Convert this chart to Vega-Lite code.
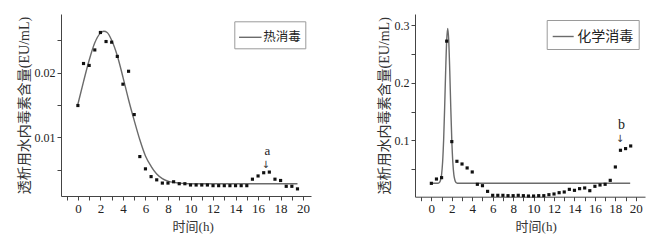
{
  "$schema": "https://vega.github.io/schema/vega-lite/v6.json",
  "background": "white",
  "padding": {"left": 17, "top": 14, "right": 5, "bottom": 4},
  "spacing": 66,
  "config": {
    "view": {"stroke": null},
    "axis": {
      "grid": false,
      "domainColor": "#444",
      "tickColor": "#444",
      "labelColor": "#222",
      "titleColor": "#333",
      "labelFont": "Liberation Serif",
      "titleFont": "Liberation Serif, Noto Sans CJK SC",
      "titleFontWeight": "normal",
      "tickSize": 4,
      "labelPadding": 2,
      "labelFlush": false
    },
    "legend": {
      "orient": "none",
      "strokeColor": "#9a9a9a",
      "fillColor": "white",
      "symbolType": "stroke",
      "symbolStrokeWidth": 1.4,
      "labelFont": "Noto Sans CJK SC",
      "labelColor": "#222",
      "padding": 4
    }
  },
  "datasets": {
    "heatPts": [
      {"t": 0, "v": 0.0149}, {"t": 0.5, "v": 0.0214}, {"t": 1, "v": 0.0211}, {"t": 1.5, "v": 0.0235},
      {"t": 2, "v": 0.0262}, {"t": 2.5, "v": 0.0248}, {"t": 3, "v": 0.0247}, {"t": 3.5, "v": 0.0225},
      {"t": 4, "v": 0.0182}, {"t": 4.5, "v": 0.0202}, {"t": 5, "v": 0.0135}, {"t": 5.5, "v": 0.0070},
      {"t": 6, "v": 0.0051}, {"t": 6.5, "v": 0.0039}, {"t": 7, "v": 0.0034}, {"t": 7.5, "v": 0.0029},
      {"t": 8, "v": 0.0029}, {"t": 8.5, "v": 0.0031}, {"t": 9, "v": 0.0028}, {"t": 9.5, "v": 0.0028},
      {"t": 10, "v": 0.0026}, {"t": 10.5, "v": 0.0026}, {"t": 11, "v": 0.0026}, {"t": 11.5, "v": 0.0026},
      {"t": 12, "v": 0.0025}, {"t": 12.5, "v": 0.0025}, {"t": 13, "v": 0.0025}, {"t": 13.5, "v": 0.0025},
      {"t": 14, "v": 0.0025}, {"t": 14.5, "v": 0.0025}, {"t": 15, "v": 0.0025}, {"t": 15.5, "v": 0.0035},
      {"t": 16, "v": 0.0040}, {"t": 16.5, "v": 0.0045}, {"t": 17, "v": 0.0046}, {"t": 17.5, "v": 0.0035},
      {"t": 18, "v": 0.0033}, {"t": 18.5, "v": 0.0024}, {"t": 19, "v": 0.0024}, {"t": 19.5, "v": 0.0020}
    ],
    "heatCurve": [
      {"t": 0, "v": 0.0151, "s": "热消毒"}, {"t": 0.5, "v": 0.0186, "s": "热消毒"}, {"t": 1, "v": 0.0219, "s": "热消毒"},
      {"t": 1.5, "v": 0.0246, "s": "热消毒"}, {"t": 2, "v": 0.0261, "s": "热消毒"}, {"t": 2.3, "v": 0.0264, "s": "热消毒"},
      {"t": 2.6, "v": 0.0262, "s": "热消毒"}, {"t": 3, "v": 0.0250, "s": "热消毒"}, {"t": 3.5, "v": 0.0226, "s": "热消毒"},
      {"t": 4, "v": 0.0193, "s": "热消毒"}, {"t": 4.5, "v": 0.0158, "s": "热消毒"}, {"t": 5, "v": 0.0126, "s": "热消毒"},
      {"t": 5.5, "v": 0.0096, "s": "热消毒"}, {"t": 6, "v": 0.0071, "s": "热消毒"}, {"t": 6.5, "v": 0.0055, "s": "热消毒"},
      {"t": 7, "v": 0.0043, "s": "热消毒"}, {"t": 7.5, "v": 0.0036, "s": "热消毒"}, {"t": 8, "v": 0.0032, "s": "热消毒"},
      {"t": 8.5, "v": 0.0030, "s": "热消毒"}, {"t": 9, "v": 0.0029, "s": "热消毒"}, {"t": 10, "v": 0.0028, "s": "热消毒"},
      {"t": 19.5, "v": 0.0028, "s": "热消毒"}
    ],
    "heatLetter": [{"t": 16.83, "v": 0.0078, "label": "a"}],
    "heatArrow": [{"t": 16.68, "v": 0.0057, "label": "↓"}],
    "chemPts": [
      {"t": 0, "v": 0.0249}, {"t": 0.5, "v": 0.0324}, {"t": 1, "v": 0.0348}, {"t": 1.5, "v": 0.2727},
      {"t": 2, "v": 0.0976}, {"t": 2.5, "v": 0.0633}, {"t": 3, "v": 0.0586}, {"t": 3.5, "v": 0.0517},
      {"t": 4, "v": 0.0447}, {"t": 4.5, "v": 0.0232}, {"t": 5, "v": 0.0208}, {"t": 5.5, "v": 0.0109},
      {"t": 6, "v": 0.0040}, {"t": 6.5, "v": 0.0040}, {"t": 7, "v": 0.0040}, {"t": 7.5, "v": 0.0034},
      {"t": 8, "v": 0.0034}, {"t": 8.5, "v": 0.0040}, {"t": 9, "v": 0.0034}, {"t": 9.5, "v": 0.0028},
      {"t": 10, "v": 0.0028}, {"t": 10.5, "v": 0.0034}, {"t": 11, "v": 0.0034}, {"t": 11.5, "v": 0.0051},
      {"t": 12, "v": 0.0063}, {"t": 12.5, "v": 0.0086}, {"t": 13, "v": 0.0098}, {"t": 13.5, "v": 0.0144},
      {"t": 14, "v": 0.0127}, {"t": 14.5, "v": 0.0156}, {"t": 15, "v": 0.0168}, {"t": 15.5, "v": 0.0121},
      {"t": 16, "v": 0.0197}, {"t": 16.5, "v": 0.0220}, {"t": 17, "v": 0.0232}, {"t": 17.5, "v": 0.0301},
      {"t": 18, "v": 0.0534}, {"t": 18.5, "v": 0.0825}, {"t": 19, "v": 0.0854}, {"t": 19.5, "v": 0.0900}
    ],
    "chemCurve": [
      {"t": 0, "v": 0.025, "s": "化学消毒"}, {"t": 0.6, "v": 0.025, "s": "化学消毒"}, {"t": 0.7, "v": 0.0254, "s": "化学消毒"},
      {"t": 0.8, "v": 0.0266, "s": "化学消毒"}, {"t": 0.9, "v": 0.0307, "s": "化学消毒"}, {"t": 1.0, "v": 0.0401, "s": "化学消毒"},
      {"t": 1.1, "v": 0.0615, "s": "化学消毒"}, {"t": 1.2, "v": 0.100, "s": "化学消毒"}, {"t": 1.3, "v": 0.1565, "s": "化学消毒"},
      {"t": 1.4, "v": 0.221, "s": "化学消毒"}, {"t": 1.5, "v": 0.274, "s": "化学消毒"}, {"t": 1.6, "v": 0.295, "s": "化学消毒"},
      {"t": 1.7, "v": 0.274, "s": "化学消毒"}, {"t": 1.8, "v": 0.221, "s": "化学消毒"}, {"t": 1.9, "v": 0.1565, "s": "化学消毒"},
      {"t": 2.0, "v": 0.100, "s": "化学消毒"}, {"t": 2.1, "v": 0.0615, "s": "化学消毒"}, {"t": 2.2, "v": 0.0401, "s": "化学消毒"},
      {"t": 2.3, "v": 0.0307, "s": "化学消毒"}, {"t": 2.4, "v": 0.0266, "s": "化学消毒"}, {"t": 2.5, "v": 0.0254, "s": "化学消毒"},
      {"t": 2.6, "v": 0.025, "s": "化学消毒"}, {"t": 19.45, "v": 0.025, "s": "化学消毒"}
    ],
    "chemLetter": [{"t": 18.6, "v": 0.127, "label": "b"}],
    "chemArrow": [{"t": 18.46, "v": 0.103, "label": "↓"}]
  },
  "hconcat": [
    {
      "width": 250,
      "height": 182,
      "resolve": {"axis": {"x": "independent", "y": "independent"}},
      "layer": [
        {
          "data": {"name": "heatCurve"},
          "mark": {"type": "line", "interpolate": "monotone", "strokeWidth": 1.4},
          "encoding": {
            "x": {
              "field": "t", "type": "quantitative",
              "scale": {"domain": [-1.5, 20.7], "nice": false, "zero": false},
              "axis": {"orient": "bottom", "title": null, "labels": false, "domain": false,
                       "values": [-1, 1, 3, 5, 7, 9, 11, 13, 15, 17, 19]}
            },
            "y": {
              "field": "v", "type": "quantitative",
              "scale": {"domain": [0.0009, 0.02906], "nice": false, "zero": false},
              "axis": {"orient": "left", "title": null, "labels": false, "domain": false,
                       "values": [0.005, 0.015, 0.025]}
            },
            "color": {
              "field": "s", "type": "nominal",
              "scale": {"range": ["#6b6b6b"]},
              "legend": {"title": null, "legendX": 173.3, "legendY": 7.3, "symbolSize": 506, "labelFontSize": 12.5, "labelOffset": 1}
            }
          }
        },
        {
          "data": {"name": "heatPts"},
          "mark": {"type": "square", "size": 10, "color": "#111", "opacity": 1},
          "encoding": {
            "x": {
              "field": "t", "type": "quantitative",
              "axis": {"orient": "bottom", "title": "时间(h)", "values": [0, 2, 4, 6, 8, 10, 12, 14, 16, 18, 20],
                       "labelFontSize": 13, "titleFontSize": 13, "titlePadding": 5, "titleX": 131.7}
            },
            "y": {
              "field": "v", "type": "quantitative",
              "axis": {"orient": "left", "title": "透析用水内毒素含量(EU/mL)", "values": [0.01, 0.02], "format": ".2f",
                       "labelFontSize": 12, "titleFontSize": 14, "titlePadding": 3}
            }
          }
        },
        {
          "data": {"name": "heatLetter"},
          "mark": {"type": "text", "font": "Liberation Serif", "fontSize": 13, "color": "#222", "baseline": "middle"},
          "encoding": {
            "x": {"field": "t", "type": "quantitative", "axis": null},
            "y": {"field": "v", "type": "quantitative", "axis": null},
            "text": {"field": "label"}
          }
        },
        {
          "data": {"name": "heatArrow"},
          "mark": {"type": "text", "font": "DejaVu Sans", "fontSize": 10, "color": "#333", "baseline": "middle"},
          "encoding": {
            "x": {"field": "t", "type": "quantitative", "axis": null},
            "y": {"field": "v", "type": "quantitative", "axis": null},
            "text": {"field": "label"}
          }
        }
      ]
    },
    {
      "width": 230,
      "height": 182.7,
      "resolve": {"axis": {"x": "independent", "y": "independent"}},
      "layer": [
        {
          "data": {"name": "chemCurve"},
          "mark": {"type": "line", "interpolate": "monotone", "strokeWidth": 1.4},
          "encoding": {
            "x": {
              "field": "t", "type": "quantitative",
              "scale": {"domain": [-1.6, 20.9], "nice": false, "zero": false},
              "axis": {"orient": "bottom", "title": null, "labels": false, "domain": false,
                       "values": [-1, 1, 3, 5, 7, 9, 11, 13, 15, 17, 19]}
            },
            "y": {
              "field": "v", "type": "quantitative",
              "scale": {"domain": [0.0016, 0.32], "nice": false, "zero": false},
              "axis": {"orient": "left", "title": null, "labels": false, "domain": false,
                       "values": [0.05, 0.15, 0.25]}
            },
            "color": {
              "field": "s", "type": "nominal",
              "scale": {"range": ["#6b6b6b"]},
              "legend": {"title": null, "legendX": 131.7, "legendY": 6, "symbolSize": 441, "labelFontSize": 14, "labelOffset": 2.5, "padding": 5}
            }
          }
        },
        {
          "data": {"name": "chemPts"},
          "mark": {"type": "square", "size": 10, "color": "#111", "opacity": 1},
          "encoding": {
            "x": {
              "field": "t", "type": "quantitative",
              "axis": {"orient": "bottom", "title": "时间(h)", "values": [0, 2, 4, 6, 8, 10, 12, 14, 16, 18, 20],
                       "labelFontSize": 13, "titleFontSize": 13, "titlePadding": 5, "titleX": 120.7}
            },
            "y": {
              "field": "v", "type": "quantitative",
              "axis": {"orient": "left", "title": "透析用水内毒素含量(EU/mL)", "values": [0.1, 0.2, 0.3], "format": ".1f",
                       "labelFontSize": 12, "titleFontSize": 14, "titlePadding": 3}
            }
          }
        },
        {
          "data": {"name": "chemLetter"},
          "mark": {"type": "text", "font": "Liberation Serif", "fontSize": 14, "color": "#222", "baseline": "middle"},
          "encoding": {
            "x": {"field": "t", "type": "quantitative", "axis": null},
            "y": {"field": "v", "type": "quantitative", "axis": null},
            "text": {"field": "label"}
          }
        },
        {
          "data": {"name": "chemArrow"},
          "mark": {"type": "text", "font": "DejaVu Sans", "fontSize": 10, "color": "#333", "baseline": "middle"},
          "encoding": {
            "x": {"field": "t", "type": "quantitative", "axis": null},
            "y": {"field": "v", "type": "quantitative", "axis": null},
            "text": {"field": "label"}
          }
        }
      ]
    }
  ],
  "resolve": {"scale": {"color": "independent"}}
}
